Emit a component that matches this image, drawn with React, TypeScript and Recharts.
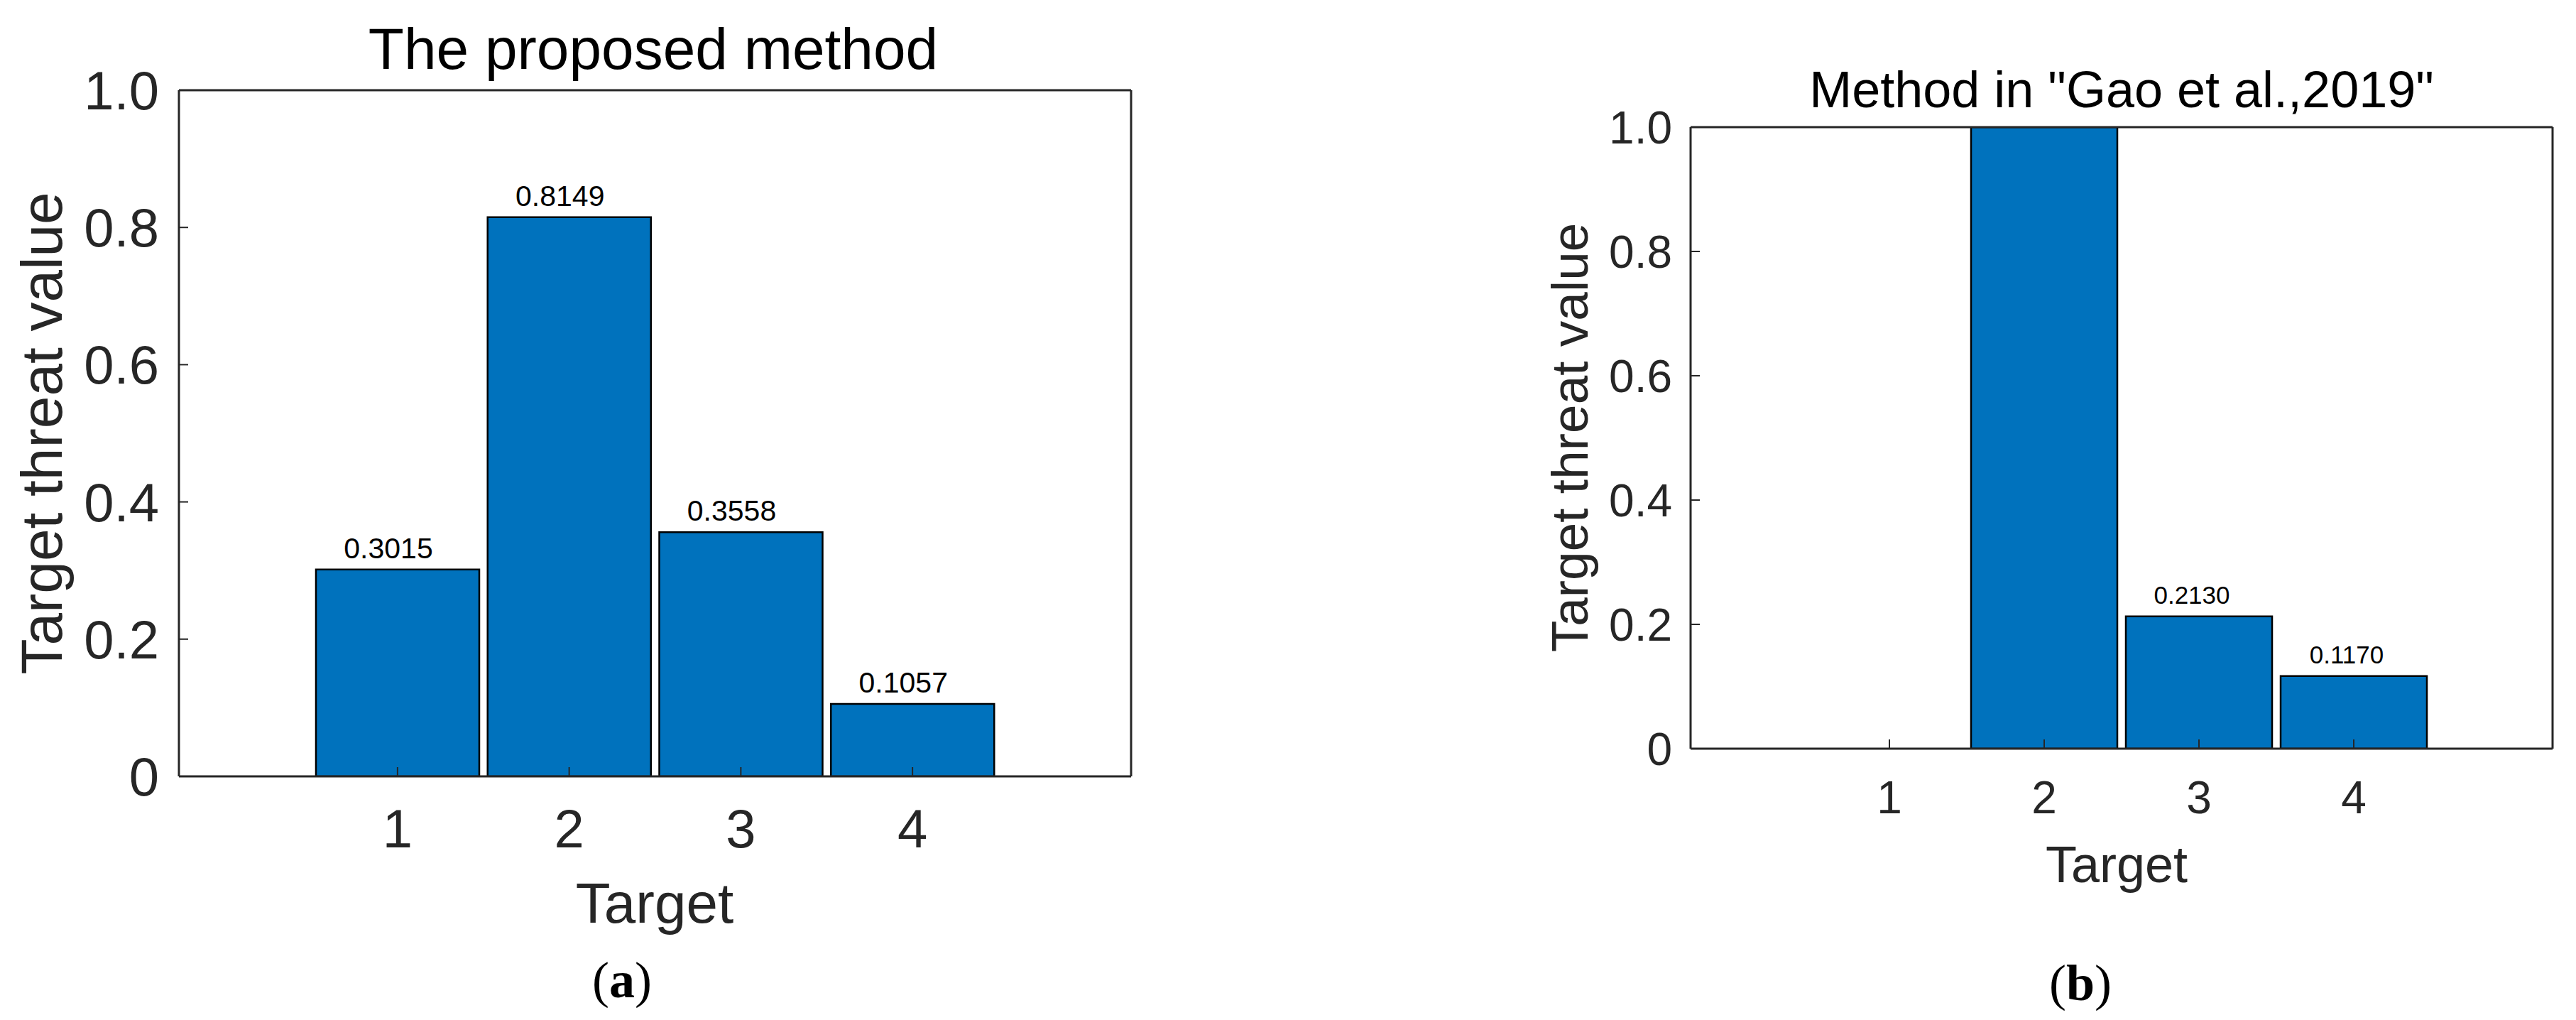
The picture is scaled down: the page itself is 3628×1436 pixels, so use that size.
import React from 'react';
import { BarChart, Bar, XAxis, YAxis, LabelList } from 'recharts';

// values
const targets = ['1', '2', '3', '4'];
const proposedValues = [0.3015, 0.8149, 0.3558, 0.1057];
const proposedLabels = ['0.3015', '0.8149', '0.3558', '0.1057'];
const gaoValues = [0, 1.0, 0.213, 0.117];
const gaoLabels = ['', '', '0.2130', '0.1170'];
const yTicks = [0, 0.2, 0.4, 0.6, 0.8, 1.0];

const SANS = '"Liberation Sans", Arial, Helvetica, sans-serif';
const SERIF = '"Liberation Serif", "Times New Roman", serif';
const AXIS = '#262626';
const BLUE = '#0072BD';

const toRows = (values: number[], labels: string[]) =>
  targets.map((name, i) => ({ name, value: values[i], label: labels[i] }));

const fmtY = (v: number) => (v === 0 ? '0' : v.toFixed(1));

const ValueLabel = (props: any) => {
  const vb = props.viewBox || props;
  const { value, fontSize, lift, shift } = props;
  if (value === '' || value == null) return null;
  return (
    <text
      x={vb.x + vb.width / 2 + shift}
      y={vb.y - lift}
      textAnchor="middle"
      fontSize={fontSize}
      fontFamily={SANS}
      fill="#000"
    >
      {value}
    </text>
  );
};

const Panel = ({ data, width, height, margin, pad, tickFont, xTickGap, yTickGap, gap, labelFont, lift, shift }: any) => {
  const tickStyle = { fontSize: tickFont, fill: AXIS, fontFamily: SANS };
  const lineStyle = { stroke: AXIS, strokeWidth: 3 };
  const tickLineStyle = { stroke: AXIS, strokeWidth: 2 };
  return (
    <BarChart width={width} height={height} data={data} margin={margin} barCategoryGap={gap}>
      <XAxis
        dataKey="name"
        type="category"
        height={120}
        padding={pad}
        axisLine={lineStyle}
        tickLine={tickLineStyle}
        tickSize={-13}
        tickMargin={xTickGap + 13}
        tick={tickStyle}
        interval={0}
      />
      {/* top edge of the box, ticks pointing in */}
      <XAxis
        xAxisId="top"
        dataKey="name"
        type="category"
        orientation="top"
        mirror
        height={1}
        padding={pad}
        axisLine={lineStyle}
        tickLine={tickLineStyle}
        tickSize={13}
        tick={false}
        interval={0}
      />
      <YAxis
        type="number"
        domain={[0, 1]}
        ticks={yTicks}
        allowDataOverflow
        width={200}
        axisLine={lineStyle}
        tickLine={tickLineStyle}
        tickSize={-13}
        tickMargin={yTickGap + 13}
        tick={tickStyle}
        tickFormatter={fmtY}
        interval={0}
      />
      {/* right edge of the box */}
      <YAxis
        yAxisId="right"
        type="number"
        orientation="right"
        mirror
        width={1}
        domain={[0, 1]}
        ticks={yTicks}
        allowDataOverflow
        axisLine={lineStyle}
        tickLine={tickLineStyle}
        tickSize={13}
        tick={false}
        interval={0}
      />
      <Bar dataKey="value" fill={BLUE} stroke="#000" strokeWidth={2.5} isAnimationActive={false}>
        <LabelList
          dataKey="label"
          content={(p: any) => <ValueLabel {...p} fontSize={labelFont} lift={lift} shift={shift} />}
        />
      </Bar>
    </BarChart>
  );
};

const App = () => {
  const proposed = toRows(proposedValues, proposedLabels);
  const gao = toRows(gaoValues, gaoLabels);

  return (
    <div style={{ position: 'absolute', left: 0, top: 0, width: 3628, height: 1436, background: '#fff', overflow: 'hidden' }}>
      <div style={{ position: 'absolute', left: 0, top: 0 }}>
        <Panel
          data={proposed}
          width={1700}
          height={1436}
          margin={{ top: 127, right: 107, bottom: 223, left: 52 }}
          pad={{ left: 187, right: 187 }}
          tickFont={76}
          xTickGap={46}
          yTickGap={28}
          gap={6}
          labelFont={41}
          lift={16}
          shift={-13}
        />
      </div>
      <div style={{ position: 'absolute', left: 2100, top: 0 }}>
        <Panel
          data={gao}
          width={1528}
          height={1436}
          margin={{ top: 179, right: 33, bottom: 262, left: 81 }}
          pad={{ left: 171, right: 171 }}
          tickFont={64}
          xTickGap={46}
          yTickGap={26}
          gap={6}
          labelFont={35}
          lift={18}
          shift={-10}
        />
      </div>
      <svg width={3628} height={1436} style={{ position: 'absolute', left: 0, top: 0, pointerEvents: 'none' }}>
        <g fontFamily={SANS}>
          <text x={920} y={97} textAnchor="middle" fontSize={82} fill="#000">The proposed method</text>
          <text x={922} y={1299} textAnchor="middle" fontSize={80} fill={AXIS}>Target</text>
          <text transform="translate(87,610) rotate(-90)" textAnchor="middle" fontSize={82} fill={AXIS}>Target threat value</text>

          <text x={2988} y={151} textAnchor="middle" fontSize={72} fill="#000">Method in "Gao et al.,2019"</text>
          <text x={2981} y={1242} textAnchor="middle" fontSize={72} fill={AXIS}>Target</text>
          <text transform="translate(2236,616) rotate(-90)" textAnchor="middle" fontSize={73} fill={AXIS}>Target threat value</text>
        </g>
        <g fontFamily={SERIF} fill="#000">
          <text x={876} y={1404} textAnchor="middle" fontSize={72}>(<tspan fontWeight="bold">a</tspan>)</text>
          <text x={2930} y={1408} textAnchor="middle" fontSize={72}>(<tspan fontWeight="bold">b</tspan>)</text>
        </g>
      </svg>
    </div>
  );
};

export default App;
